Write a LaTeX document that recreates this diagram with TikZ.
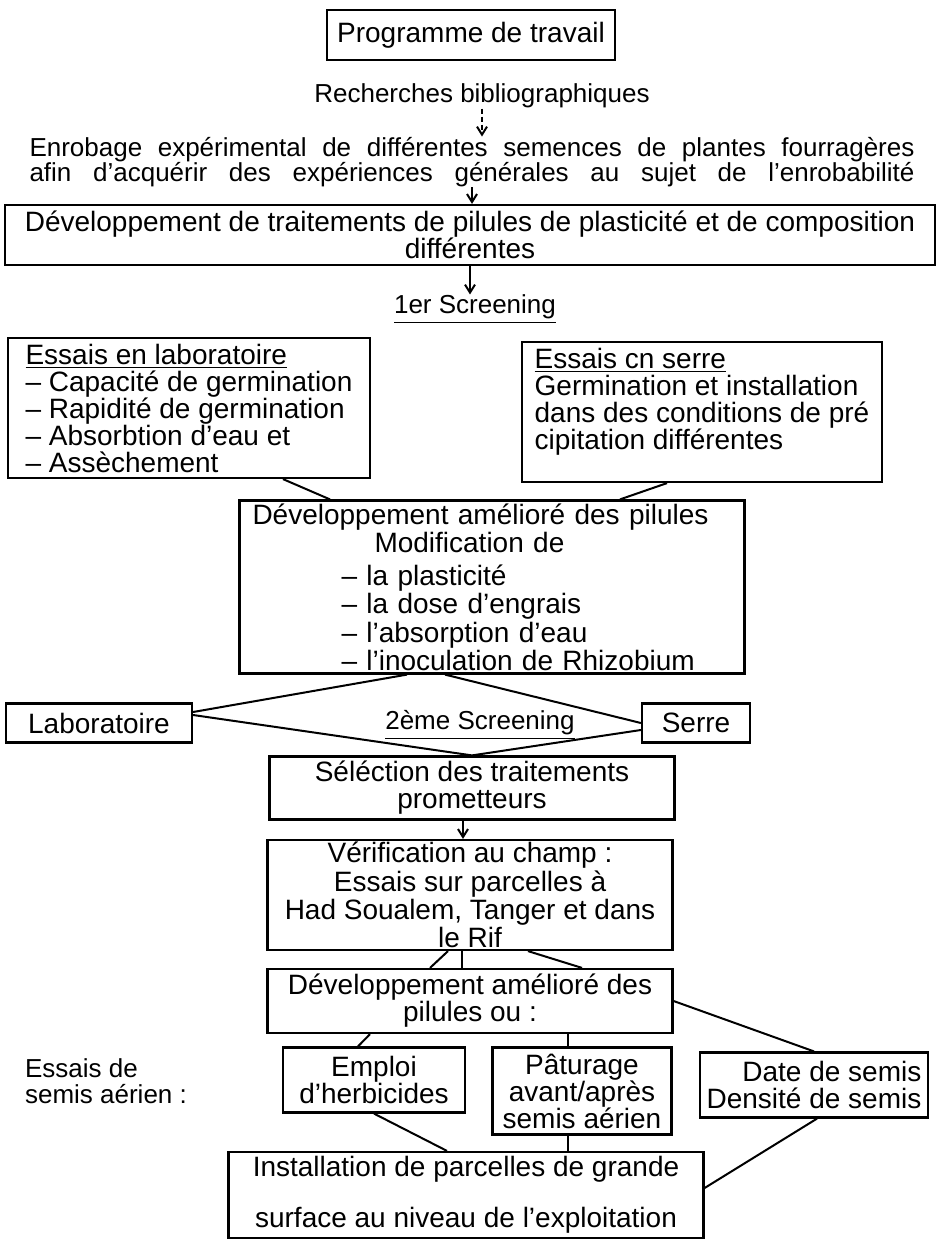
\documentclass[tikz,border=0pt]{standalone}
\usepackage{fontspec}
\setmainfont{Liberation Sans}
\usetikzlibrary{arrows.meta}

\begin{document}
\begin{tikzpicture}[x=0.5pt,y=-0.5pt,
	every node/.style={font=\fontsize{14pt}{13.5pt}\selectfont, inner sep=0pt},
	box/.style={draw, line width=1.1pt},
	link/.style={line width=1pt},
	arr/.style={line width=1pt, -{Straight Barb[length=4pt,width=5pt]}},
	small/.style={font=\fontsize{13pt}{12.8pt}\selectfont}]
					\useasboundingbox (0,0) rectangle (938,1242);
					% Programme and first steps
					\node[box, minimum width=144pt, minimum height=25pt] (prog) at (471,35) {Programme de travail};
					\node[font=\fontsize{13pt}{13pt}\selectfont] (biblio) at (482,96) {Recherches bibliographiques};
					\node[small, align=center] (enrob) at (472,162) {\makebox[442.5pt][s]{Enrobage expérimental de différentes semences de plantes fourragères}\\\makebox[442.5pt][s]{afin d’acquérir des expériences générales au sujet de l’enrobabilité}};
					\node[box, align=center, minimum width=465pt, minimum height=30pt] (trait) at (470,235) {Développement de traitements de pilules de plasticité et de composition\\différentes};
					\node[small] (scr1) at (475,309) {\underline{1er Screening}};
					\draw[arr, dash pattern=on 2.5pt off 1.5pt] (biblio.south) -- (biblio.south |- enrob.north);
					\draw[arr] (enrob.south) -- (enrob.south |- trait.north);
					\draw[arr] (trait.south) -- (trait.south |- scr1.north);
					% 1er screening
					\node[box, align=left, minimum width=181pt, minimum height=70pt] (labo) at (189,408) {\underline{Essais en laboratoire}\\-- Capacité de germination\\-- Rapidité de germination\\-- Absorbtion d’eau et\\-- Assèchement};
					\node[box, align=left, minimum width=180pt, minimum height=70pt] (serre) at (702,412) {\underline{Essais cn serre}\\Germination et installation\\dans des conditions de pré\\cipitation différentes\\~};
					\node[box, align=left, text width=252.5pt, minimum height=86.5pt, font=\fontsize{14pt}{11.8pt}\selectfont] (amel) at (492,587) {\hspace*{6.5pt}Développement amélioré des pilules\\\hspace*{67.5pt}Modification de\\[5pt]\hspace*{51pt}-- la plasticité\\\hspace*{51pt}-- la dose d’engrais\\\hspace*{51pt}-- l’absorption d’eau\\\hspace*{51pt}-- l’inoculation de Rhizobium};
					\draw[link] ([xshift=47pt]labo.south) -- ([xshift=-81pt]amel.north);
					\draw[link] ([xshift=-17.5pt]serre.south) -- ([xshift=64pt]amel.north);
					% 2eme screening
					\node[box, minimum width=93pt, minimum height=19.5pt] (lab2) at (99,723) {Laboratoire};
					\node[box, minimum width=54pt, minimum height=19.5pt] (serre2) at (696,723) {Serre};
					\node[small] (scr2) at (480,725) {\underline{2ème Screening}};
					\node[box, align=center, minimum width=202.5pt, minimum height=31.5pt] (sel) at (472,788) {Séléction des traitements\\prometteurs};
					\draw[link] ([xshift=-42.5pt]amel.south) -- ([yshift=5.5pt]lab2.east);
					\draw[link] ([xshift=-23.5pt]amel.south) -- (serre2.west);
					\draw[link] ([yshift=4pt]lab2.east) -- (sel.north);
					\draw[link] ([yshift=-3.5pt]serre2.west) -- (sel.north);
					% champ
					\node[box, align=center, minimum width=202.5pt, minimum height=55pt, font=\fontsize{14pt}{12.6pt}\selectfont] (ver) at (470,895) {Vérification au champ :\\Essais sur parcelles à\\Had Soualem, Tanger et dans\\le Rif};
					\node[box, align=center, minimum width=202.5pt, minimum height=32pt] (dev2) at (470,1001) {Développement amélioré des\\pilules ou :};
					\draw[arr] ([xshift=-4.5pt]sel.south) -- ([xshift=-3.5pt]ver.north);
					\draw[link] ([xshift=-11pt]ver.south) -- ([xshift=-20pt]dev2.north);
					\draw[link] ([xshift=-4pt]ver.south) -- ([xshift=-4pt]dev2.north);
					\draw[link] ([xshift=29pt]ver.south) -- ([xshift=56pt]dev2.north);
					% semis aerien
					\node[small, align=left] (aerien) at (106,1081) {Essais de\\semis aérien :};
					\node[box, align=center, minimum width=91pt, minimum height=32.5pt] (emploi) at (374,1080) {Emploi\\d’herbicides};
					\node[box, align=center, minimum width=89.5pt, minimum height=43.5pt] (patur) at (582,1091) {Pâturage\\avant/après\\semis aérien};
					\node[box, align=right, minimum width=114pt, minimum height=32.5pt] (date) at (814,1085) {Date de semis\\Densité de semis};
					\node[box, align=center, minimum width=237.5pt, minimum height=43pt] (inst) at (466,1195) {Installation de parcelles de grande\\[12pt]surface au niveau de l’exploitation};
					\draw[link] ([xshift=-50pt]dev2.south) -- ([xshift=-8pt]emploi.north);
					\draw[link] ([xshift=49pt]dev2.south) -- ([xshift=-7pt]patur.north);
					\draw[link] (dev2.east) -- (date.north);
					\draw[link] (emploi.south) -- ([xshift=-9.5pt]inst.north);
					\draw[link] ([xshift=-7pt]patur.south) -- ([xshift=51pt]inst.north);
					\draw[link] ([xshift=1.5pt]date.south) -- ([yshift=3.5pt]inst.east);
				\end{tikzpicture}
\end{document}
